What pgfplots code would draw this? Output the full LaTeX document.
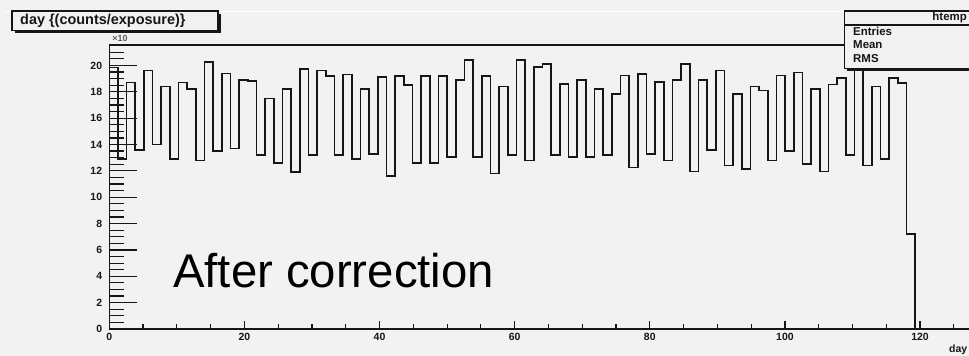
\documentclass[border=0pt]{standalone}
\usepackage{fontspec}
\setmainfont{Liberation Sans}
\usepackage{pgfplots}
\pgfplotsset{compat=1.18}
\usepackage{pgfplotstable}
\definecolor{bg}{RGB}{242,242,242}
\definecolor{ink}{RGB}{22,22,22}

\pgfplotstableread{
x y
0 0
0 19.85
1.282 12.9
2.565 18.7
3.847 13.6
5.130 19.6
6.412 14.0
7.694 18.4
8.977 12.9
10.259 18.7
11.542 18.2
12.824 12.8
14.106 20.25
15.389 13.5
16.671 19.4
17.954 13.7
19.236 18.9
20.518 18.8
21.801 13.2
23.083 17.5
24.366 12.6
25.648 18.2
26.930 11.9
28.213 19.75
29.495 13.2
30.778 19.6
32.060 19.2
33.342 13.2
34.625 19.3
35.907 12.9
37.190 18.2
38.472 13.3
39.754 19.1
41.037 11.6
42.319 19.2
43.602 18.5
44.884 12.6
46.166 19.2
47.449 12.6
48.731 19.2
50.014 13.05
51.296 18.9
52.578 20.4
53.861 13.05
55.143 19.2
56.426 11.8
57.708 18.4
58.990 13.2
60.273 20.4
61.555 12.8
62.838 19.9
64.120 20.1
65.402 13.2
66.685 18.6
67.967 13.05
69.250 18.9
70.532 13.05
71.814 18.2
73.097 13.2
74.379 17.85
75.662 19.25
76.944 12.25
78.226 19.35
79.509 13.3
80.791 18.75
82.074 12.8
83.356 18.9
84.638 20.1
85.921 11.95
87.203 18.9
88.486 13.6
89.768 19.6
91.050 12.4
92.333 17.85
93.615 12.15
94.898 18.4
96.180 18.1
97.462 12.8
98.745 19.25
100.027 13.5
101.310 19.45
102.592 12.5
103.874 18.2
105.157 11.95
106.439 18.55
107.722 19.05
109.004 13.2
110.286 19.9
111.569 12.4
112.851 18.4
114.134 12.9
115.416 19.05
116.698 18.65
117.981 7.2
119.263 0
}\histdata

\pgfplotsset{
  myax/.style={
    scale only axis, width=864.8bp, height=284bp,
    xmin=0, xmax=128, ymin=0, ymax=21.55,
    at={(109.3bp,27bp)}, anchor=south west,
    axis line style={ink, line width=1.3bp},
    every tick/.style={ink, line width=1.2bp},
    tick align=inside,
    /pgf/number format/assume math mode=true,
    ticklabel style={font=\bfseries\fontsize{10.5}{10.5}\selectfont, inner sep=0pt, text=ink},
  }
}

\begin{document}
\begin{tikzpicture}
\fill[bg] (0,0) rectangle (969bp,356bp);
\draw[white, line width=1.5bp] (3bp,344.5bp) -- (969bp,344.5bp);

% frame + x ticks
\begin{axis}[myax,
  ytick=\empty,
  xtick={0,20,...,120},
  minor xtick={5,10,...,125},
  xtick pos=bottom,
  major tick length=8bp, minor tick length=4.5bp,
  xticklabel style={yshift=-4bp},
]
\end{axis}

% y ticks + histogram
\begin{axis}[myax,
  hide x axis,
  ytick={0,2,...,20},
  minor ytick={0.5,1,...,21.5},
  ytick pos=left,
  major tick length=28bp, minor tick length=15bp,
  yticklabel style={xshift=-7bp},
]
\addplot[const plot, ink, line width=1.6bp] table[x=x, y=y] {\histdata};
\end{axis}

% multiplier
\node[font=\bfseries\fontsize{9}{9}\selectfont, text=ink!70, inner sep=0pt] at (120bp,318bp) {×10};

% title box
\fill[ink] (15bp,323bp) rectangle (221bp,342bp);
\filldraw[fill=bg, draw=ink, line width=1.1bp] (12bp,325.3bp) rectangle (218bp,345bp);
\node[anchor=west, inner sep=0pt, font=\bfseries\fontsize{14.5}{14.5}\selectfont, text=ink] at (20bp,335bp) {day \{(counts/exposure)\}};

% stats box
\fill[ink] (847bp,285.3bp) rectangle (990bp,300bp);
\filldraw[fill=bg, draw=ink, line width=1.1bp] (844.3bp,287.7bp) rectangle (985bp,345bp);
\draw[ink, line width=1.1bp] (844.3bp,331bp) -- (985bp,331bp);
\node[anchor=east, inner sep=0pt, font=\bfseries\fontsize{11.5}{11.5}\selectfont, text=ink] at (967bp,338.5bp) {htemp};
\node[anchor=west, inner sep=0pt, font=\bfseries\fontsize{11.5}{11.5}\selectfont, text=ink] at (853bp,325bp) {Entries};
\node[anchor=west, inner sep=0pt, font=\bfseries\fontsize{11.5}{11.5}\selectfont, text=ink] at (853bp,311.5bp) {Mean};
\node[anchor=west, inner sep=0pt, font=\bfseries\fontsize{11.5}{11.5}\selectfont, text=ink] at (853bp,297bp) {RMS};

% annotation
\node[anchor=base west, inner sep=0pt, font=\fontsize{47.5}{47.5}\selectfont, text=black] at (173bp,68.7bp) {After correction};

% x label (cut by right edge)
\node[anchor=west, inner sep=0pt, font=\bfseries\fontsize{10.5}{10.5}\selectfont, text=ink] at (949bp,6.5bp) {day};

\pgfresetboundingbox
\path[use as bounding box] (0,0) rectangle (969bp,356bp);
\end{tikzpicture}
\end{document}
